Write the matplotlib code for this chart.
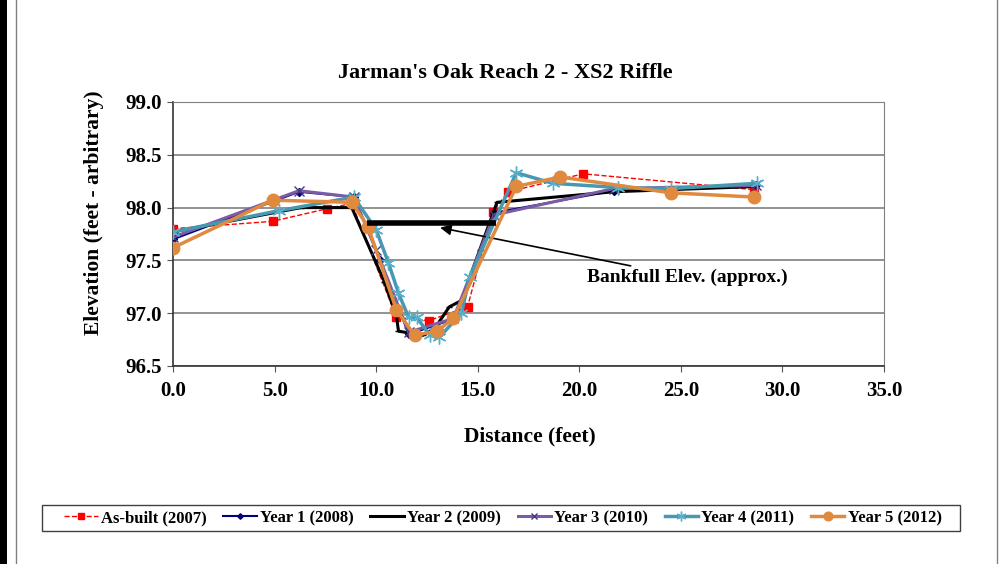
import matplotlib
matplotlib.use("Agg")
import matplotlib.pyplot as plt
from matplotlib.patches import Rectangle

plt.rcParams['font.family'] = ['Liberation Serif', 'DejaVu Serif']
plt.rcParams['font.weight'] = 'bold'

# ---- data ----
asbuilt_x = [0.0, 4.9, 7.6, 8.8, 11.0, 12.6, 14.5, 15.75, 16.5, 20.2, 28.6]
asbuilt_y = [97.80, 97.87, 97.99, 98.04, 96.96, 96.93, 97.06, 97.96, 98.15, 98.32, 98.17]

y1_x = [0.0, 6.2, 8.9, 10.2, 11.6, 13.9, 15.8, 21.7, 28.7]
y1_y = [97.70, 98.15, 98.10, 97.50, 96.80, 96.95, 97.95, 98.16, 98.21]

y2_x = [0.0, 6.3, 8.8, 10.4, 11.0, 11.1, 12.3, 12.9, 13.6, 14.2, 15.1, 15.95, 21.7, 28.7]
y2_y = [97.77, 98.00, 98.00, 97.30, 96.97, 96.83, 96.79, 96.86, 97.06, 97.12, 97.60, 98.05, 98.15, 98.20]

y3_x = [0.0, 6.2, 8.9, 10.0, 11.6, 13.8, 15.8, 21.7, 28.7]
y3_y = [97.72, 98.16, 98.10, 97.60, 96.82, 96.95, 97.93, 98.18, 98.21]

y4_x = [0.0, 5.2, 8.9, 10.0, 10.6, 11.1, 11.6, 12.0, 12.65, 13.1, 14.2, 14.6, 16.9, 18.7, 21.9, 24.5, 28.75]
y4_y = [97.77, 97.97, 98.10, 97.79, 97.48, 97.19, 96.96, 96.96, 96.79, 96.77, 97.00, 97.34, 98.33, 98.23, 98.19, 98.18, 98.23]

y5_x = [0.0, 4.9, 8.8, 9.6, 11.0, 11.9, 13.0, 13.8, 16.9, 19.05, 24.5, 28.6]
y5_y = [97.62, 98.07, 98.05, 97.82, 97.03, 96.79, 96.83, 96.95, 98.20, 98.29, 98.14, 98.10]

bankfull_x = [9.55, 15.9]
bankfull_y = [97.85, 97.85]

labels = ["As-built (2007)", "Year 1 (2008)", "Year 2 (2009)",
          "Year 3 (2010)", "Year 4 (2011)", "Year 5 (2012)"]
xticks = [0, 5, 10, 15, 20, 25, 30, 35]
yticks = [96.5, 97.0, 97.5, 98.0, 98.5, 99.0]

W, H = 1002, 564

# ---- figure ----
fig = plt.figure(figsize=(W/100, H/100), dpi=100)
fig.patches.append(Rectangle((0, 0), 7/W, 1, transform=fig.transFigure,
                             facecolor='black', edgecolor='none'))
fig.patches.append(Rectangle((16/W, -0.01), (997-16)/W, (561+10)/H, transform=fig.transFigure,
                             facecolor='none', edgecolor='#808080', linewidth=1.0))
# legend box (drawn like the original's)
fig.patches.append(Rectangle((42/W, 1-531/H), (960-42)/W, (531-505)/H, transform=fig.transFigure,
                             facecolor='white', edgecolor='#404040', linewidth=1.0))

ax = fig.add_axes([173/W, 1-366/H, (884-173)/W, (366-102)/H])
ax.set_xlim(0, 35)
ax.set_ylim(96.5, 99.0)
ax.set_xticks(xticks)
ax.set_yticks(yticks)
ax.set_xticklabels([f"{v:.1f}" for v in xticks])
ax.set_yticklabels([f"{v:.1f}" for v in yticks])
ax.tick_params(axis='both', labelsize=15, direction='out', length=4, color='#555555')
ax.tick_params(axis='x', pad=7)
ax.tick_params(axis='y', pad=4)
ax.yaxis.grid(True, color='#808080', linewidth=1.2)
ax.set_axisbelow(True)
for s in ['top', 'right']:
    ax.spines[s].set_color('#808080')
for s in ['left', 'bottom']:
    ax.spines[s].set_color('#333333')
    ax.spines[s].set_linewidth(1.2)

l0, = ax.plot(asbuilt_x, asbuilt_y, color='red', linestyle='--', linewidth=1.0,
              marker='s', markersize=5.5, markeredgecolor='red', zorder=3)
l1, = ax.plot(y1_x, y1_y, color='#000080', linewidth=1.5, marker='D', markersize=4, zorder=3)
l2, = ax.plot(y2_x, y2_y, color='black', linewidth=2.2, marker='_', markersize=4, zorder=3)
l3, = ax.plot(y3_x, y3_y, color='#7B5BA6', linewidth=2.2, marker='x', markersize=7,
              markeredgecolor='#4B3A80', zorder=3)
l4, = ax.plot(y4_x, y4_y, color='#4699B0', linewidth=2.5, marker=(6, 2, 0), markersize=10,
              markeredgecolor='#5AAFC8', markeredgewidth=1.0, zorder=4)
l5, = ax.plot(y5_x, y5_y, color='#E08A40', linewidth=2.5, marker='o', markersize=9,
              markeredgecolor='#E08A40', zorder=5)

ax.plot(bankfull_x, bankfull_y, color='black', linewidth=4, solid_capstyle='butt', zorder=6)
ax.annotate("Bankfull Elev. (approx.)", xy=(13.15, 97.81), xytext=(20.4, 97.34),
            fontsize=14, fontweight='bold', va='center', ha='left',
            arrowprops=dict(arrowstyle='-|>', color='black', lw=1.2,
                            shrinkA=0, shrinkB=0, mutation_scale=16))

fig.text(505/W, 1-73/H, "Jarman's Oak Reach 2 - XS2 Riffle", fontsize=16,
         fontweight='bold', ha='center', va='center')
ax.set_xlabel("Distance (feet)", fontsize=15.5, fontweight='bold')
ax.set_ylabel("Elevation (feet - arbitrary)", fontsize=15.5, fontweight='bold')
ax.xaxis.set_label_coords((530-173)/711, (366-426)/264)
ax.yaxis.set_label_coords((104-173)/711, 0.58)

leg = fig.legend([l0, l1, l2, l3, l4, l5], labels, loc='center',
                 bbox_to_anchor=(503/W, 1-518/H), ncol=6, fontsize=12,
                 frameon=False, handlelength=2.0, columnspacing=1.0,
                 handletextpad=0.2, borderpad=0.2, markerscale=0.7)

fig.savefig("out.png", dpi=100)
